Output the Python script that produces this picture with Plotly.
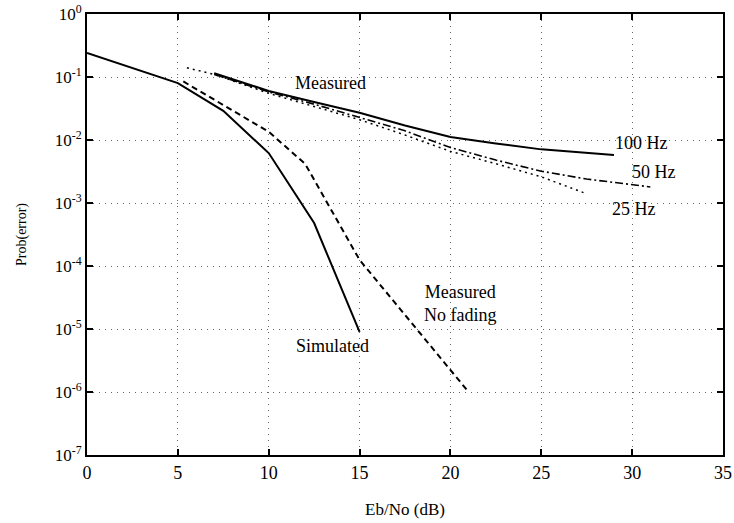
import math
import plotly.graph_objects as go

# Eb/No (dB) sample points and bit-error probabilities for each curve
sim_x = [0, 2.5, 5, 7.5, 10, 12.5, 15]
sim_y = [0.24, 0.14, 0.08, 0.029, 0.0062, 4.8e-4, 9e-6]

nofade_x = [5.3, 7.5, 10, 12, 15, 21]
nofade_y = [0.085, 0.036, 0.0135, 0.0042, 1.25e-4, 1.0e-6]

hz100_x = [7, 10, 12.5, 15, 17.5, 20, 22.5, 25, 29]
hz100_y = [0.115, 0.06, 0.04, 0.027, 0.017, 0.0112, 0.0088, 0.0071, 0.0058]

hz50_x = [7, 10, 12.5, 15, 17.5, 20, 22.5, 25, 27.5, 31]
hz50_y = [0.11, 0.058, 0.037, 0.023, 0.014, 0.0076, 0.0048, 0.0032, 0.0024, 0.0018]

hz25_x = [5.5, 7, 10, 12.5, 15, 17.5, 20, 22.5, 25, 27.5]
hz25_y = [0.14, 0.11, 0.055, 0.034, 0.021, 0.012, 0.0066, 0.0042, 0.0026, 0.0014]

x_ticks = [0, 5, 10, 15, 20, 25, 30, 35]
y_exps = [0, -1, -2, -3, -4, -5, -6, -7]

SERIF = "Liberation Serif"

fig = go.Figure()

curves = [
    (sim_x, sim_y, "solid", 2.0),
    (nofade_x, nofade_y, "6px,4px", 2.0),
    (hz100_x, hz100_y, "solid", 2.0),
    (hz50_x, hz50_y, "8px,3px,2px,3px", 1.6),
    (hz25_x, hz25_y, "2px,4px", 1.5),
]
for xs, ys, dash, w in curves:
    fig.add_trace(go.Scatter(
        x=xs, y=ys, mode="lines",
        line=dict(color="black", width=w, dash=dash),
        showlegend=False, hoverinfo="skip",
    ))

# curve labels: (Eb/No, probability, text)
labels = [
    (13.4, 0.08, "Measured"),
    (30.5, 10 ** -2.05, "100 Hz"),
    (31.2, 10 ** -2.51, "50 Hz"),
    (30.1, 10 ** -3.09, "25 Hz"),
    (20.5, 10 ** -4.6, "Measured<br>No fading"),
    (13.5, 10 ** -5.27, "Simulated"),
]
for lx, ly, txt in labels:
    # annotation positions on a log axis are given as log10 values
    fig.add_annotation(
        x=lx, y=math.log10(ly), xref="x", yref="y", text=txt, showarrow=False,
        font=dict(family=SERIF, size=18, color="black"),
        align="center",
    )

fig.update_layout(
    width=734, height=523,
    margin=dict(l=87, r=11, t=14, b=68),
    paper_bgcolor="white", plot_bgcolor="white",
    font=dict(family=SERIF, color="black"),
)

fig.update_xaxes(
    range=[0, 35], tickvals=x_ticks, ticktext=[str(v) for v in x_ticks],
    automargin=False,
    showline=True, linecolor="black", linewidth=2, mirror="ticks",
    ticks="inside", ticklen=6, tickwidth=1.5, tickcolor="black",
    showgrid=True, gridcolor="#666666", gridwidth=1, griddash="1px,5px",
    zeroline=False,
    tickfont=dict(family=SERIF, size=18, color="black"),
    title=dict(text="Eb/No (dB)", font=dict(family=SERIF, size=17, color="black"), standoff=22),
)

fig.update_yaxes(
    type="log", range=[-7, 0],
    tickvals=[10 ** e for e in y_exps],
    ticktext=[f"10<sup>{e}</sup>" for e in y_exps],
    automargin=False,
    showline=True, linecolor="black", linewidth=2, mirror="ticks",
    ticks="inside", ticklen=6, tickwidth=1.5, tickcolor="black",
    showgrid=True, gridcolor="#666666", gridwidth=1, griddash="1px,5px",
    zeroline=False,
    tickfont=dict(family=SERIF, size=17, color="black"),
    title=dict(text="Prob(error)", font=dict(family=SERIF, size=14, color="black"), standoff=25),
)

fig.write_html("out.html")
